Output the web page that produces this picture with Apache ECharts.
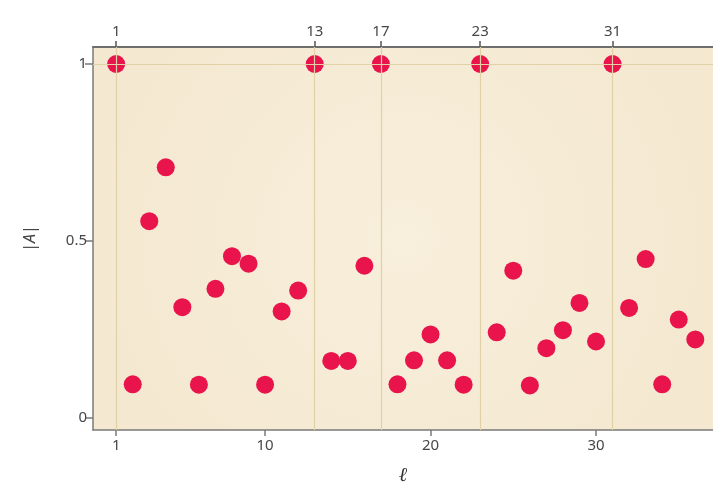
<!DOCTYPE html>
<html>
<head>
<meta charset="utf-8">
<script src="https://cdn.jsdelivr.net/npm/echarts@6/dist/echarts.min.js"></script>
<style>
  html, body { margin: 0; padding: 0; background: #fff; }
  #chart { width: 713px; height: 491px; }
</style>
</head>
<body>
<div id="chart"></div>
<script>
// ℓ values and |A|
const ell = [1, 2, 3, 4, 5, 6, 7, 8, 9, 10, 11, 12, 13, 14, 15, 16, 17, 18,
  19, 20, 21, 22, 23, 24, 25, 26, 27, 28, 29, 30, 31, 32, 33, 34, 35, 36];
const absA = [1, 0.095, 0.556, 0.708, 0.313, 0.094, 0.365, 0.457, 0.436, 0.094, 0.301, 0.36,
  1, 0.161, 0.161, 0.43, 1, 0.095, 0.163, 0.236, 0.163, 0.094,
  1, 0.242, 0.416, 0.092, 0.197, 0.248, 0.325, 0.216,
  1, 0.311, 0.449, 0.095, 0.278, 0.222];
const topTicks = [1, 13, 17, 23, 31];
const bottomTicks = [1, 10, 20, 30];
const yTicks = [0, 0.5, 1];

const axisGray = '#7a7a7a';
const labelStyle = { color: '#474747', fontSize: 15, fontFamily: 'Noto Sans' };

const chart = echarts.init(document.getElementById('chart'));

const option = {
  animation: false,
  grid: {
    left: 93, right: 0, top: 47, bottom: 59,
    show: true,
    borderWidth: 0,
    backgroundColor: {
      type: 'radial', x: 0.5, y: 0.5, r: 0.8,
      colorStops: [
        { offset: 0, color: '#f8efdc' },
        { offset: 1, color: '#f4e8d0' }
      ]
    }
  },
  xAxis: [
    {
      type: 'value',
      position: 'bottom',
      min: -0.4, max: 37.07,
      name: 'ℓ',
      nameLocation: 'middle',
      nameGap: 36,
      nameTextStyle: { color: '#333', fontSize: 20, fontStyle: 'italic', fontFamily: 'DejaVu Serif' },
      axisLine: { show: true, onZero: false, lineStyle: { color: axisGray, width: 1.5 } },
      axisTick: { show: true, customValues: bottomTicks, length: 6, lineStyle: { color: axisGray, width: 1.5 } },
      axisLabel: Object.assign({ customValues: bottomTicks, margin: 8 }, labelStyle),
      splitLine: { show: false }
    },
    {
      type: 'value',
      position: 'top',
      min: -0.4, max: 37.07,
      axisLine: { show: true, onZero: false, lineStyle: { color: '#6e6e6e', width: 2 } },
      axisTick: { show: true, customValues: topTicks, length: 6, lineStyle: { color: '#555', width: 1.5 } },
      axisLabel: Object.assign({ customValues: topTicks, margin: 8 }, labelStyle),
      splitLine: { show: false }
    }
  ],
  yAxis: {
    type: 'value',
    min: -0.034, max: 1.048,
    name: '{n||}{i|A}{n||}',
    nameLocation: 'middle',
    nameGap: 55,
    nameRotate: 90,
    nameTextStyle: {
      rich: {
        n: { color: '#444', fontSize: 16, fontFamily: 'Noto Sans' },
        i: { color: '#444', fontSize: 16, fontStyle: 'italic', fontFamily: 'Noto Sans' }
      }
    },
    axisLine: { show: true, onZero: false, lineStyle: { color: axisGray, width: 1.5 } },
    axisTick: { show: true, customValues: yTicks, length: 8, lineStyle: { color: axisGray, width: 1.5 } },
    axisLabel: Object.assign({ customValues: yTicks, margin: 6 }, labelStyle),
    splitLine: { show: false }
  },
  series: [
    {
      type: 'scatter',
      data: [],
      z: 1,
      silent: true,
      markLine: {
        silent: true,
        symbol: 'none',
        label: { show: false },
        lineStyle: { color: '#e0d2a6', width: 1.2, type: 'solid' },
        data: topTicks.map(v => ({ xAxis: v })).concat([{ yAxis: 1 }])
      }
    },
    {
      type: 'scatter',
      z: 3,
      symbolSize: 18,
      itemStyle: { color: '#e8144b', opacity: 1 },
      data: ell.map((x, i) => [x, absA[i]])
    }
  ]
};
chart.setOption(option);
</script>
</body>
</html>
